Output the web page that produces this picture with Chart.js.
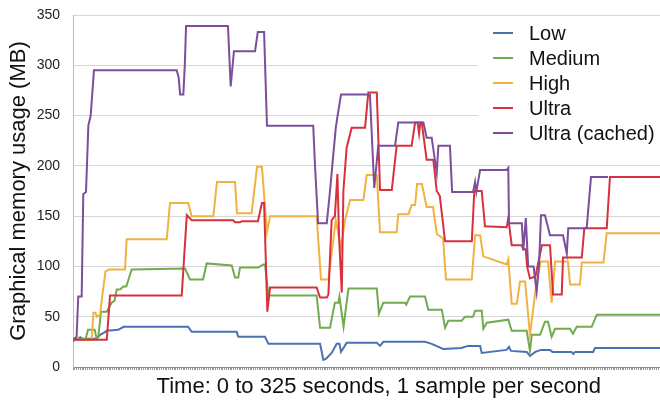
<!DOCTYPE html>
<html>
<head>
<meta charset="utf-8">
<script src="https://cdn.jsdelivr.net/npm/chart.js@4"></script>
<style>
  html, body { margin: 0; padding: 0; background: #fff; }
  #wrap { width: 660px; height: 403px; }
</style>
</head>
<body>
<div id="wrap"><canvas id="chart" width="660" height="403"></canvas></div>
<script>
// Series as [second, MB] pairs (step-like traces)
const seriesNames = ['Low', 'Medium', 'High', 'Ultra', 'Ultra (cached)'];
const seriesColors = ['#4a72b2', '#72ab4f', '#f0b341', '#d8303d', '#7d4e9c'];

const low = [
  [0,25],[1,28],[3,28],[4,29.5],[5.5,28],[13,28],[15,32],[17,34],[18.7,36],[25,37],[28,40],
  [63.7,40],[65.7,35],[90.6,35],[91.5,30],[106.3,30],[108.2,23],[136.8,23],[138.6,7],[140,8],
  [143.2,14],[146,23],[147.5,23],[148.4,15],[151.5,24],[168.2,24],[170,21],[171.8,25],[194.9,25],
  [198.6,23],[204.9,18],[215,19],[218.7,21],[225.4,21],[226.3,14],[240,17],[241.4,20],[242.5,16],
  [251.2,15],[253,11],[256,15],[259,17],[264,17],[265.5,15],[276,15],[277,13],[278,15],[288,15],
  [289,19],[325,19]
];

const medium = [
  [0,27],[7,28],[8.3,37],[12,37],[13.1,28],[14,30],[15.5,55],[18.7,55],[21.4,64],[23,66],
  [24.2,77],[26,77],[27.9,80],[29.5,80],[32.5,97],[62,98],[64.8,87],[72,87],[74,103],[87.9,101],
  [89.7,89],[91.5,89],[92.5,99],[102.6,99],[105.4,102],[106.3,102],[108.2,71],[134.9,71],
  [136.8,39],[142.3,39],[144,55],[145,64],[146.9,64],[147.5,70],[149.8,40],[150.5,50],[152.5,78],
  [168.2,78],[169.4,53],[171.8,64],[183.8,64],[184.5,62],[186.6,70],[194.9,70],[196.7,57],
  [204.2,57],[206,39],[207.8,46],[215.2,46],[217.1,50],[221.5,50],[222.6,56],[226.3,56],
  [227.2,38],[229.1,44],[241,47],[242.9,36],[251.2,36],[253,16],[254,32],[258.6,32],[261.3,45],
  [263,45],[265,30],[266.9,38],[275.2,38],[276.8,33],[278.9,40],[287.2,40],[290,52],[325,52]
];

const high = [
  [0,27],[10.3,27],[11.3,54],[12.5,54],[13.1,50],[15,52],[16,68],[18,95],[20,97],[28.8,97],
  [29.7,127],[51.9,127],[53.7,163],[63.8,163],[65.7,150],[77.7,150],[79.7,184],[89.7,184],
  [90.8,153],[98.9,153],[101.9,199],[104.6,199],[107.4,134],[109.1,150],[134.9,150],[137.3,87],
  [141.4,87],[145.5,146],[148.4,118],[150.6,146],[153.4,166],[160.8,166],[162.6,191],[168.2,191],
  [170,134],[179.2,134],[180.1,152],[185.7,152],[187.5,161],[189.4,161],[190.5,182],[193.2,182],
  [195.8,159],[199.3,159],[201.5,132],[204.9,128],[206.5,87],[220.8,87],[222.6,131],[225.4,131],
  [227.2,110],[240.1,102],[241,107],[242.9,63],[245.7,63],[247.5,85],[250.3,85],[253,32],
  [256.7,85],[259,105],[263,105],[265,64],[266.9,105],[274,105],[275.2,82],[280.7,82],[281.7,104],
  [293.7,104],[295.5,133],[325,133]
];

const ultra = [
  [0,27],[18.7,27],[20.5,71],[60.2,71],[63,151],[65.7,146],[88.6,146],[89.7,144],[92.5,144],
  [93.5,145],[102.4,145],[104.6,163],[105.8,163],[107.6,55],[109.1,79],[134.9,79],[136.8,69],
  [140.5,69],[141.4,72],[143.2,146],[145,150],[146.4,192],[147.3,130],[148.8,74],[149.7,175],
  [151.5,218],[154.3,238],[161.7,238],[163.5,273],[168.2,273],[170,176],[176.5,176],[179.2,220],
  [187.5,220],[189.4,243],[190.8,243],[191.6,232],[192.3,243],[193.1,243],[195.8,206],[199.5,206],
  [201.4,175],[203.1,170],[206,125],[220.8,125],[222.2,175],[226.3,175],[228.1,140],[240.1,139],
  [241,148],[242.9,121],[248.5,121],[249.3,117],[250.7,117],[251.4,100],[253,88],[256,90],
  [259.6,121],[264.1,121],[265.8,72],[270.6,72],[271.3,109],[281.7,109],[283.1,138],[295.5,138],
  [297.3,189],[325,189]
];

const ultraCached = [
  [0,27],[2,30],[2.9,70],[4.8,70],[5.7,172],[7.2,174],[8.5,240],[9.8,250],[11.6,295],[57.4,295],
  [58.5,288],[59.3,271],[61.1,271],[61.9,300],[62.6,339],[85.8,339],[87.3,279],[89.1,314],
  [100.8,314],[102.3,333],[105.8,333],[107.4,240],[133,240],[134,200],[135.7,143],[140.5,143],
  [142.3,175],[143.6,201],[145.5,238],[146.5,250],[148.4,271],[164.4,271],[166.8,178],[169,220],
  [178.3,220],[180.1,243],[194,243],[195.8,228],[198.6,228],[201.4,193],[202.3,220],[208.7,220],
  [209.9,174],[221.5,174],[222.6,184],[223.3,174],[225.4,196],[240.1,196],[241,198],[241.4,143],
  [248.5,143],[249.3,116],[250.7,148],[252,100],[255,100],[256.7,75],[258,100],[259.1,151],
  [261.3,151],[264.1,131],[271.3,131],[273.4,113],[274.2,138],[284.4,138],[286.8,189],[296.2,189]
];

const yTicks = [0, 50, 100, 150, 200, 250, 300, 350];
// leading no-break spaces nudge the centred title right, as in the original
const xTitle = '\u00a0\u00a0\u00a0\u00a0Time: 0 to 325 seconds, 1 sample per second';
const yTitle = 'Graphical memory usage (MB)';

const allSeries = [low, medium, high, ultra, ultraCached];
const FONT = '"Liberation Sans", Arial, Helvetica, sans-serif';

Chart.defaults.font.family = FONT;
Chart.defaults.color = '#111';

// legend drawn inside the plot, like the original
const insideLegend = {
  id: 'insideLegend',
  afterDatasetsDraw(chart) {
    const ctx = chart.ctx;
    ctx.save();
    ctx.fillStyle = '#fff';
    ctx.fillRect(478, 17, 182, 130);
    ctx.font = '20px ' + FONT;
    ctx.textBaseline = 'middle';
    chart.data.datasets.forEach((ds, i) => {
      const y = 33 + i * 25;
      ctx.strokeStyle = ds.borderColor;
      ctx.lineWidth = 2;
      ctx.beginPath();
      ctx.moveTo(493, y);
      ctx.lineTo(513, y);
      ctx.stroke();
      ctx.fillStyle = '#111';
      ctx.fillText(ds.label, 529, y + 1);
    });
    ctx.restore();
  }
};

const datasets = allSeries.map((s, i) => ({
  label: seriesNames[i],
  data: s.map(p => ({ x: p[0], y: p[1] })),
  borderColor: seriesColors[i],
  backgroundColor: seriesColors[i],
  borderWidth: 2,
  pointRadius: 0,
  tension: 0,
  fill: false,
  order: allSeries.length - i
}));

new Chart(document.getElementById('chart'), {
  type: 'line',
  data: { datasets: datasets },
  options: {
    responsive: false,
    animation: false,
    devicePixelRatio: 1,
    layout: { padding: { top: 15, right: 0, bottom: 0, left: 0 } },
    plugins: {
      legend: { display: false },
      tooltip: { enabled: false }
    },
    scales: {
      x: {
        type: 'linear',
        min: 0,
        max: 325,
        afterBuildTicks: (scale) => {
          const t = [];
          for (let s = 0; s <= 325; s++) t.push({ value: s });
          scale.ticks = t;
        },
        afterFit: (scale) => { scale.height = 36; },
        ticks: { display: false },
        grid: { drawOnChartArea: false, drawTicks: true, tickLength: 3, color: '#9a9a9a' },
        border: { color: '#8c8c8c' },
        title: {
          display: true,
          text: xTitle,
          font: { size: 22 },
          padding: { top: 0, bottom: 3 },
          color: '#111'
        }
      },
      y: {
        min: 0,
        max: 350,
        afterBuildTicks: (scale) => { scale.ticks = yTicks.map(v => ({ value: v })); },
        afterFit: (scale) => { scale.width = 73; },
        ticks: { font: { size: 14 }, padding: 3, color: '#222' },
        grid: { color: '#d6d6d6', drawTicks: true, tickLength: 10, tickColor: 'rgba(0,0,0,0)' },
        border: { color: '#bdbdbd' },
        title: {
          display: true,
          text: yTitle,
          font: { size: 22 },
          padding: { top: 6, bottom: 0 },
          color: '#111'
        }
      }
    }
  },
  plugins: [insideLegend]
});
</script>
</body>
</html>
